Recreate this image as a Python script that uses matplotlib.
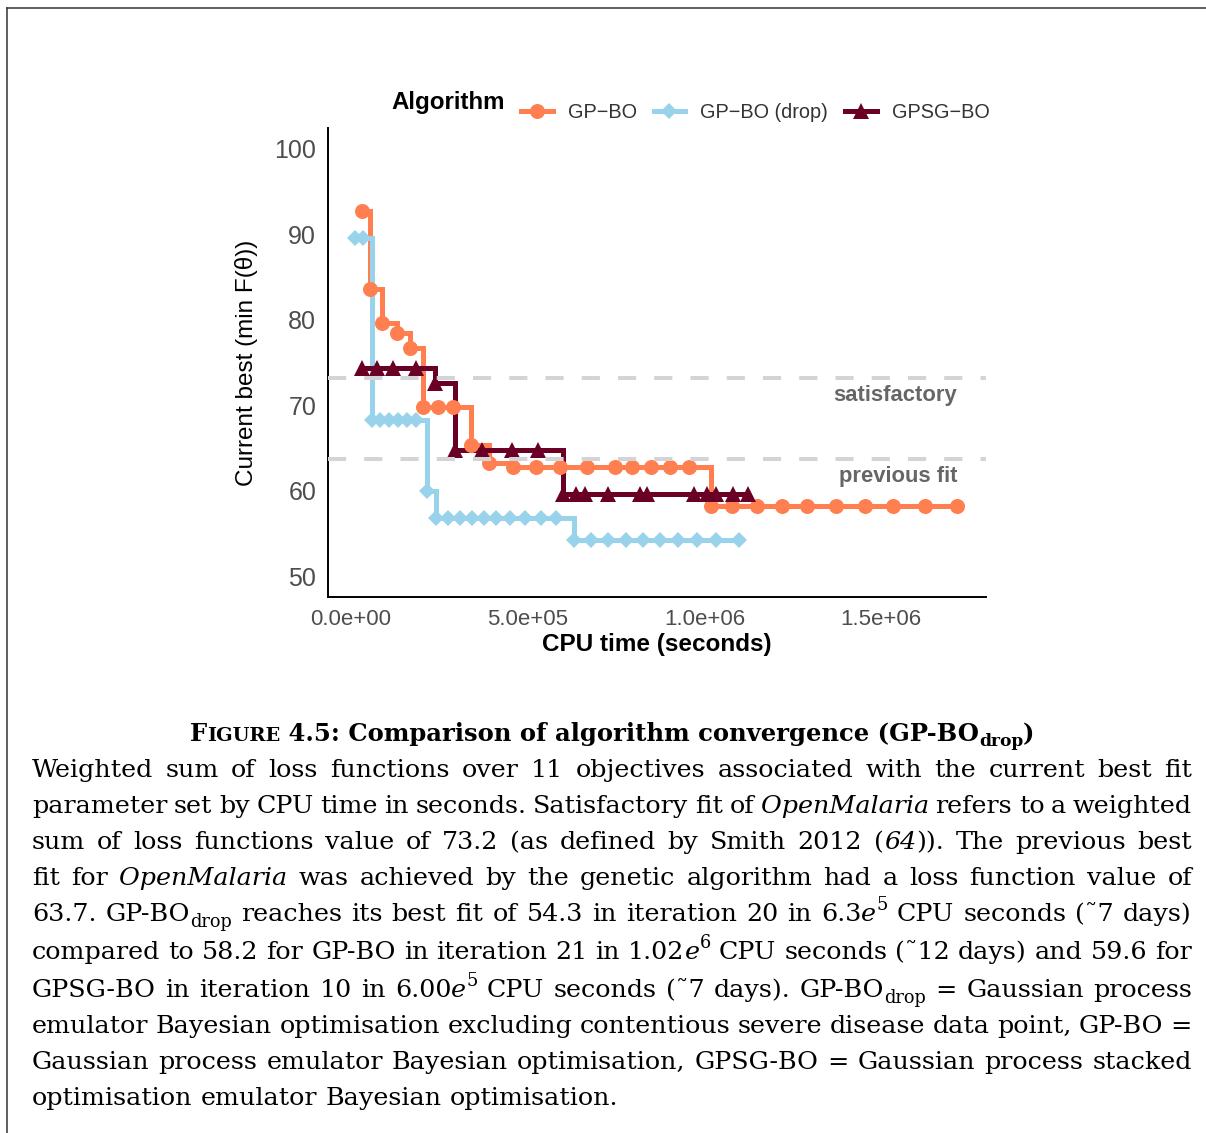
import re
import matplotlib
matplotlib.use("Agg")
import matplotlib.pyplot as plt
from matplotlib.font_manager import FontProperties
from matplotlib.lines import Line2D

W, H, DPI = 1206, 1133, 100

# ---- convergence traces: CPU time (s) vs current best weighted loss ----
algorithms = ["GP−BO", "GP−BO (drop)", "GPSG−BO"]

gpbo_time = [31000, 53800, 87700, 130200, 167000, 203800, 246200, 288700, 339600, 390600,
             458500, 523600, 591500, 667900, 747100, 795200, 849000, 902800, 956500,
             1020000, 1078200, 1149000, 1219700, 1290500, 1372500, 1454600, 1533900, 1624400, 1715000]
gpbo_best = [92.7, 83.6, 79.6, 78.4, 76.7, 69.8, 69.8, 69.8, 65.4, 63.3,
             62.8, 62.8, 62.8, 62.8, 62.8, 62.8, 62.8, 62.8, 62.8,
             58.2, 58.2, 58.2, 58.2, 58.2, 58.2, 58.2, 58.2, 58.2, 58.2]

drop_time = [11300, 34000, 59400, 82100, 107500, 133000, 158500, 184000, 215000,
             240500, 274500, 308500, 342400, 376400, 410400, 450000, 492400, 537700, 580200,
             630000, 679200, 727300, 778300, 826400, 874500, 925400, 979200, 1033000, 1098000]
drop_best = [89.5, 89.5, 68.3, 68.3, 68.3, 68.3, 68.3, 68.3, 60.0,
             56.8, 56.8, 56.8, 56.8, 56.8, 56.8, 56.8, 56.8, 56.8, 56.8,
             54.3, 54.3, 54.3, 54.3, 54.3, 54.3, 54.3, 54.3, 54.3, 54.3]

gpsg_time = [31100, 73600, 118900, 184000, 237700, 294300, 370700, 455600, 529200,
             600000, 636800, 662200, 727300, 817900, 837700, 970700, 1007500, 1033000, 1081100, 1123500]
gpsg_best = [74.4, 74.4, 74.4, 74.4, 72.6, 64.8, 64.8, 64.8, 64.8,
             59.6, 59.6, 59.6, 59.6, 59.6, 59.6, 59.6, 59.6, 59.6, 59.6, 59.6]

ref_values = [73.2, 63.7]
ref_labels = ["satisfactory", "previous fit"]

x_ticks = [0, 5e5, 1e6, 1.5e6]
x_tick_labels = ["0.0e+00", "5.0e+05", "1.0e+06", "1.5e+06"]
y_ticks = [50, 60, 70, 80, 90, 100]

series = [(gpbo_time, gpbo_best), (drop_time, drop_best), (gpsg_time, gpsg_best)]
colors = ["#FF7F50", "#98D2EB", "#6B0027"]
markers = ["o", "D", "^"]
msizes = [10.8, 8.0, 12.2]

SANS = "Liberation Sans"
SERIF = "DejaVu Serif"

fig = plt.figure(figsize=(W / DPI, H / DPI), dpi=DPI)
fig.patch.set_facecolor("white")
ax = fig.add_axes([328 / W, 1 - 597 / H, 658 / W, 469 / H])

# step lines first, then points (layer order)
for (x, y), c in zip(series, colors):
    ax.step(x, y, where="post", color=c, lw=3.6, solid_joinstyle="miter", zorder=2)
for (x, y), c, m, s in zip(series, colors, markers, msizes):
    ax.plot(x, y, ls="none", marker=m, ms=s, color=c, mew=0, zorder=3)

# reference levels
for v, lab in zip(ref_values, ref_labels):
    ax.axhline(v, color="#D3D3D8", lw=2.9, ls=(0, (4.5, 4.5)), zorder=4)
    ax.text(max(gpbo_time), v - 2.0, lab, ha="right", va="center",
            fontsize=15.8, fontweight="bold", family=SANS, color="#666666", zorder=5)

ax.set_xlim(-65000, 1797000)
ax.set_ylim(47.6, 102.4)
ax.set_xticks(x_ticks)
ax.set_xticklabels(x_tick_labels)
ax.set_yticks(y_ticks)
ax.tick_params(length=0, labelcolor="#4D4D4D")
ax.tick_params(axis="y", pad=8.5, labelsize=18)
ax.tick_params(axis="x", pad=8.5, labelsize=16)
for t in ax.get_xticklabels() + ax.get_yticklabels():
    t.set_family(SANS)
for side in ("top", "right"):
    ax.spines[side].set_visible(False)
for side in ("left", "bottom"):
    ax.spines[side].set_linewidth(1.4)
    ax.spines[side].set_color("black")

fig.text(246 / W, 1 - 363 / H, "Current best (min F(θ))", rotation=90, ha="center", va="center",
         fontsize=17.5, family=SANS, color="black")
fig.text(657 / W, 1 - 645 / H, "CPU time (seconds)", ha="center", va="center",
         fontsize=17.5, family=SANS, fontweight="bold", color="black")

# legend
handles = [Line2D([], [], color=c, lw=3.6, marker=m, ms=s, mew=0)
           for c, m, s in zip(colors, markers, msizes)]
leg = ax.legend(handles, algorithms, ncol=3, frameon=False, loc="center left",
                bbox_to_anchor=(521 / W, 1 - 112 / H), bbox_transform=fig.transFigure,
                borderpad=0, borderaxespad=0, handlelength=1.6, handletextpad=0.75,
                columnspacing=0.85, prop=FontProperties(family=SANS, size=14.3))
for t in leg.get_texts():
    t.set_color("#333333")
fig.text(391 / W, 1 - 103 / H, "Algorithm", ha="left", va="center", fontsize=17.4,
         family=SANS, fontweight="bold", color="black")

# page frame
fig.add_artist(Line2D([7 / W, 7 / W], [0, 1 - 8 / H], transform=fig.transFigure, color="#333333", lw=1.1))
fig.add_artist(Line2D([7 / W, 1], [1 - 8 / H, 1 - 8 / H], transform=fig.transFigure, color="#333333", lw=1.1))

# ---- caption typesetting ----
renderer = fig.canvas.get_renderer()
PX = DPI / 72.0


def parse_word(word):
    runs = []
    for m in re.finditer(r"\*([^*]+)\*|_\{([^}]+)\}|\^\{([^}]+)\}|([^*_^{}]+)", word):
        it, sub, sup, plain = m.groups()
        if it:
            runs.append((it, "i"))
        elif sub:
            runs.append((sub, "sub"))
        elif sup:
            runs.append((sup, "sup"))
        else:
            runs.append((plain, "n"))
    return runs


def run_prop(kind, size, bold=False):
    style = "italic" if kind == "i" else "normal"
    s = size
    if kind in ("sub", "sup"):
        s = size * 0.7
    elif kind == "sc":
        s = size * 0.8
    return FontProperties(family=SERIF, style=style, weight="bold" if bold else "normal", size=s)


def text_w(text, prop):
    return renderer.get_text_width_height_descent(text, prop, ismath=False)[0]


def runs_width(runs, size, bold=False):
    return sum(text_w(t, run_prop(k, size, bold)) for t, k in runs)


def space_w(size):
    p = run_prop("n", size)
    return text_w("a a", p) - text_w("aa", p)


def draw_runs(runs, x, y, size, bold=False):
    for t, k in runs:
        p = run_prop(k, size, bold)
        dy = 0.0
        if k == "sub":
            dy = -0.22 * size * PX
        elif k == "sup":
            dy = 0.42 * size * PX
        fig.text(x / W, 1 - (y - dy) / H, t, fontproperties=p, ha="left", va="baseline", color="black")
        x += text_w(t, p)
    return x


caption_lines = [
    "Weighted sum of loss functions over 11 objectives associated with the current best fit",
    "parameter set by CPU time in seconds. Satisfactory fit of *OpenMalaria* refers to a weighted",
    "sum of loss functions value of 73.2 (as defined by Smith 2012 (*64*)). The previous best",
    "fit for *OpenMalaria* was achieved by the genetic algorithm had a loss function value of",
    "63.7. GP-BO_{drop} reaches its best fit of 54.3 in iteration 20 in 6.3*e*^{5} CPU seconds (˜7 days)",
    "compared to 58.2 for GP-BO in iteration 21 in 1.02*e*^{6} CPU seconds (˜12 days) and 59.6 for",
    "GPSG-BO in iteration 10 in 6.00*e*^{5} CPU seconds (˜7 days). GP-BO_{drop} = Gaussian process",
    "emulator Bayesian optimisation excluding contentious severe disease data point, GP-BO =",
    "Gaussian process emulator Bayesian optimisation, GPSG-BO = Gaussian process stacked",
    "optimisation emulator Bayesian optimisation.",
]
line_baselines = [777, 813, 849, 885, 921, 959, 997, 1033, 1069, 1105]
LEFT, RIGHT = 32, 1192

# font size chosen so the final (ragged) line spans its natural width
words_last = [parse_word(w) for w in caption_lines[-1].split()]
base = 18.0
nat = sum(runs_width(r, base) for r in words_last) + space_w(base) * (len(words_last) - 1)
body_size = base * 585.0 / nat

for i, (line, yb) in enumerate(zip(caption_lines, line_baselines)):
    words = [parse_word(w) for w in line.split()]
    widths = [runs_width(r, body_size) for r in words]
    if i == len(caption_lines) - 1:
        gap = space_w(body_size)
    else:
        gap = (RIGHT - LEFT - sum(widths)) / (len(words) - 1)
    x = LEFT
    for r, w in zip(words, widths):
        draw_runs(r, x, yb, body_size, bold=False)
        x += w + gap

# title with small capitals
title_runs = [("F", "n"), ("IGURE", "sc"), (" 4.5: Comparison of algorithm convergence (GP-BO", "n"),
              ("drop", "sub"), (")", "n")]
tb = 18.0
tw = runs_width(title_runs, tb, bold=True)
title_size = tb * 844.0 / tw
tw = runs_width(title_runs, title_size, bold=True)
draw_runs(title_runs, 612 - tw / 2, 741, title_size, bold=True)

fig.savefig("out.png", dpi=DPI, facecolor="white")
